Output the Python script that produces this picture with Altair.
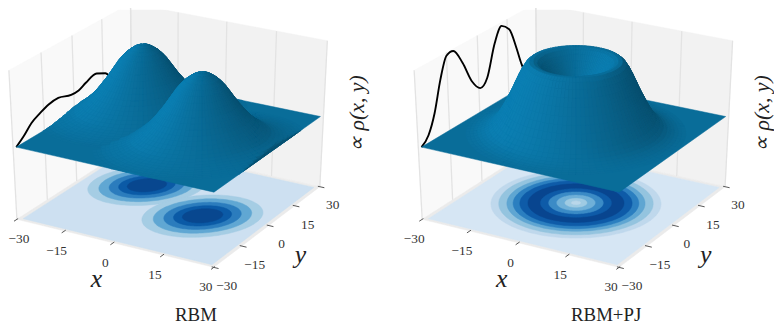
import numpy as np
import pandas as pd
import altair as alt

alt.data_transformers.disable_max_rows()

# ---- values ----
TICKS = [-30, -15, 0, 15, 30]
DATA_EDGE = 28.8
SHEET_EDGE = 29.4
SHEET_Z = 0.495
BUMP_H = 0.465

# RBM: two elongated humps (centre, radial height profile at 1-unit steps)
RBM_CENTRES = [(-11.7, 7.2), (11.7, -3.2)]
RBM_PEAKS = [(-12.7, 7.2), (10.9, -3.2)]
RBM_PROFILE = [1.0, .995, .975, .94, .90, .845, .78, .70, .62, .54, .47, .40, .335, .28, .23, .185, .145, .11, .085, .065, .048, .034, .022, .013, .006, .002, 0.0]
RBM_STRETCH = (1.12, 0.88)
RBM_STRETCH_DEG = 55
RBM_CONTOUR_R = [15.0, 12.2, 9.6, 7.2, 5.0]
RBM_CONTOUR_C = ["#a5cde4", "#60a7d3", "#2b7cbd", "#0b5aa6", "#08478f"]
RBM_BASE = "#cde0f1"

# RBM+PJ: one ring (radial height profile at 1-unit steps)
PJ_PROFILE = [.42, .43, .45, .49, .55, .62, .70, .78, .86, .93, .98, 1.0, 1.0, .96, .88, .78, .67, .56, .46, .36, .27, .19, .13, .085, .055, .035, .02, .01, .004, 0.0]
PJ_CONTOUR_R = [23.0, 20.9, 18.7, 17.0, 15.2, 13.0, 9.6, 7.4, 5.2, 3.0]
PJ_CONTOUR_C = ["#bfd8ec", "#94c4df", "#5fa6d2", "#2b7fc0", "#0e5ba8", "#08458f", "#0e5ba8", "#3b8bc6", "#6fb0d8", "#9fcbe3"]
PJ_CENTRE_C = "#b9d7ea"
PJ_BASE = "#d6e6f4"

# black curves on the x = -edge plane
RBM_CURVE_Y = [-29.4, -25.5, -21.8, -17.5, -13.5, -8.6, -2.3, 1.5, 5.2, 10.8, 15.3, 17.7, 21.0, 25.0, 29.4]
RBM_CURVE_Z = [.495, .54, .593, .625, .648, .655, .625, .625, .648, .668, .635, .595, .545, .515, .495]
PJ_CURVE_Y = [-29.4, -25.9, -22.6, -19.2, -15.9, -12.6, -8.4, -4.2, -.3, 3.3, 7.5, 11.2, 15.0, 18.5, 20.8, 25.0, 29.4]
PJ_CURVE_Z = [.495, .545, .665, .859, .989, .995, .885, .73, .655, .695, .895, .985, .935, .785, .665, .525, .495]

SHEET_BASE_RGB = (12, 131, 184)
PANEL_SHIFT = 409.5

# ---- camera (mplot3d default view) ----
U = np.array([.866025, .5, 0.0])
V = np.array([-.25, .433013, .866025])
N = np.array([.433013, -.75, .5])
SX, SY, TX, TY = 229.6, 172.0, 172.4, 130.5


def cube(x, y, z):
    return np.stack([(np.asarray(x, float) + 30) / 60, (np.asarray(y, float) + 30) / 60, np.asarray(z, float)], -1)


def project(p, shift=0.0):
    d = p - .5
    f = 10.0 / (10.0 - d @ N)
    return TX + shift + SX * f * (d @ U), TY - SY * f * (d @ V), d @ N


polys, front = [], []


def add_poly(store, x, y, z, fill, shift):
    px, py, _ = project(cube(x, y, z), shift)
    store.append((px, py, fill))


def rings(centre, radii, colors, shift, stretch=(1, 1), deg=0):
    th = np.radians(np.arange(0, 361, 3))
    a = np.radians(deg)
    for r, c in zip(radii, colors):
        e1, e2 = r * stretch[0] * np.cos(th), r * stretch[1] * np.sin(th)
        add_poly(polys, centre[0] + e1 * np.cos(a) - e2 * np.sin(a), centre[1] + e1 * np.sin(a) + e2 * np.cos(a),
                 np.zeros_like(th), c, shift)


def square(plane, fill, shift, store, edge=30, level=0.0):
    a = [-edge, edge, edge, -edge, -edge]
    b = [-edge, -edge, edge, edge, -edge]
    if plane == "floor":
        add_poly(store, a, b, [level] * 5, fill, shift)
    if plane == "left":
        add_poly(store, [-edge] * 5, a, [0, 0, 1, 1, 0], fill, shift)
    if plane == "back":
        add_poly(store, a, [edge] * 5, [0, 0, 1, 1, 0], fill, shift)


def shade(n):
    s = n @ np.array([-.667, -.667, .333])
    fac = .833 + .85 * (.25 * (1 + s) - .333)
    return "#%02x%02x%02x" % tuple(int(min(255, c * fac)) for c in SHEET_BASE_RGB)


def mesh(centres, profile, nth, stretch, deg):
    """heights from the typed profile, on a polar mesh round each centre"""
    a = np.radians(deg)
    out = []
    th = np.radians(np.linspace(0, 360, nth + 1))
    for k, c in enumerate(centres):
        rad = np.arange(len(profile), dtype=float)
        rr, tt = np.meshgrid(rad, th, indexing="ij")
        e1, e2 = rr * stretch[0] * np.cos(tt), rr * stretch[1] * np.sin(tt)
        X = c[0] + e1 * np.cos(a) - e2 * np.sin(a)
        Y = c[1] + e1 * np.sin(a) + e2 * np.cos(a)
        Z = SHEET_Z + BUMP_H * np.asarray(profile)[:, None] * np.ones_like(tt)
        X, Y = np.clip(X, -SHEET_EDGE, SHEET_EDGE), np.clip(Y, -SHEET_EDGE, SHEET_EDGE)
        for i in range(len(rad) - 1):
            for j in range(nth):
                qx = [X[i, j], X[i + 1, j], X[i + 1, j + 1], X[i, j + 1], X[i, j]]
                qy = [Y[i, j], Y[i + 1, j], Y[i + 1, j + 1], Y[i, j + 1], Y[i, j]]
                qz = [Z[i, j], Z[i + 1, j], Z[i + 1, j + 1], Z[i, j + 1], Z[i, j]]
                if len(centres) > 1:
                    mx, my = np.mean(qx[:4]), np.mean(qy[:4])
                    o = centres[1 - k]
                    if (mx - c[0]) ** 2 + (my - c[1]) ** 2 > (mx - o[0]) ** 2 + (my - o[1]) ** 2:
                        continue
                out.append((qx, qy, qz))
    return out


def surface(centres, profile, nth, stretch, deg, shift):
    square("floor", "#%02x%02x%02x" % tuple(int(c * .833) for c in SHEET_BASE_RGB), shift, front, SHEET_EDGE, SHEET_Z)
    faces = mesh(centres, profile, nth, stretch, deg)
    rows = []
    for qx, qy, qz in faces:
        p = cube(qx, qy, qz)
        n = np.cross(p[2] - p[0], p[3] - p[1])
        ln = np.linalg.norm(n)
        if ln < 1e-12:
            continue
        n = n / ln
        if n[2] < 0:
            n = -n
        depth = (p[:4].mean(0) - .5) @ N
        rows.append((depth, p, shade(n)))
    rows.sort(key=lambda t: t[0])
    for depth, p, col in rows:
        px, py, _ = project(p, shift)
        front.append((px, py, col))


for shift, base in ((0.0, RBM_BASE), (PANEL_SHIFT, PJ_BASE)):
    square("left", "#f9f9f9", shift, polys)
    square("back", "#f2f2f2", shift, polys)
    square("floor", "#ebebeb", shift, polys)
    square("floor", base, shift, polys, DATA_EDGE)

for c in RBM_CENTRES:
    rings(c, RBM_CONTOUR_R[:1], RBM_CONTOUR_C[:1], 0.0, RBM_STRETCH, RBM_STRETCH_DEG)
for c in RBM_CENTRES:
    rings(c, RBM_CONTOUR_R[1:], RBM_CONTOUR_C[1:], 0.0, RBM_STRETCH, RBM_STRETCH_DEG)
rings((0, 0), PJ_CONTOUR_R, PJ_CONTOUR_C, PANEL_SHIFT)
rings((0, 0), [1.3], [PJ_CENTRE_C], PANEL_SHIFT)

surface(RBM_PEAKS, RBM_PROFILE, 72, RBM_STRETCH, RBM_STRETCH_DEG, 0.0)
surface([(0.0, 0.0)], PJ_PROFILE, 96, (1, 1), 0, PANEL_SHIFT)


def poly_frame(store, prefix):
    rec = []
    for i, (px, py, col) in enumerate(store):
        for k, (a, b) in enumerate(zip(px, py)):
            rec.append((round(float(a), 1), round(float(b), 1), f"{prefix}{i:05d}", k, col))
    return pd.DataFrame(rec, columns=["px", "py", "pid", "k", "fill"])


W, H = 774, 316
xs = alt.Scale(domain=[8, 8 + W], range=[0, W], nice=False, zero=False)
ys = alt.Scale(domain=[8, 8 + H], range=[0, H], nice=False, zero=False)
X = alt.X("px:Q", scale=xs, axis=None)
Y = alt.Y("py:Q", scale=ys, axis=None)


def poly_layer(df):
    return alt.Chart(df).mark_line(strokeWidth=0.5, interpolate="linear", clip=True).encode(
        x=X, y=Y, detail="pid:N", order="k:Q",
        fill=alt.Fill("fill:N", scale=None), stroke=alt.Stroke("fill:N", scale=None))


# grid lines and ticks
grid, ticks = [], []
for shift, tag in ((0.0, "a"), (PANEL_SHIFT, "b")):
    for t in TICKS:
        for name, x, y in (("l", -30, t), ("r", t, 30)):
            px, py, _ = project(cube([x, x], [y, y], [0, 1]), shift)
            grid += [(float(px[0]), float(py[0]), f"{tag}{name}{t}", 0), (float(px[1]), float(py[1]), f"{tag}{name}{t}", 1)]
        px, py, _ = project(cube([t, t], [-29.4, -31.4], [0, 0]), shift)
        ticks += [(float(px[0]), float(py[0]), f"{tag}x{t}", 0), (float(px[1]), float(py[1]), f"{tag}x{t}", 1)]
        px, py, _ = project(cube([29.4, 31.4], [t, t], [0, 0]), shift)
        ticks += [(float(px[0]), float(py[0]), f"{tag}y{t}", 0), (float(px[1]), float(py[1]), f"{tag}y{t}", 1)]
grid_df = pd.DataFrame(grid, columns=["px", "py", "pid", "k"])
tick_df = pd.DataFrame(ticks, columns=["px", "py", "pid", "k"])
grid_layer = alt.Chart(grid_df).mark_line(color="#e3e3e3", strokeWidth=1.3).encode(x=X, y=Y, detail="pid:N", order="k:Q")
tick_layer = alt.Chart(tick_df).mark_line(color="#555555", strokeWidth=1).encode(x=X, y=Y, detail="pid:N", order="k:Q")

# black curves
curve = []
for shift, tag, cy, cz in ((0.0, "a", RBM_CURVE_Y, RBM_CURVE_Z), (PANEL_SHIFT, "b", PJ_CURVE_Y, PJ_CURVE_Z)):
    px, py, _ = project(cube(np.full(len(cy), -SHEET_EDGE), cy, cz), shift)
    curve += [(float(a), float(b), tag, i) for i, (a, b) in enumerate(zip(px, py))]
curve_df = pd.DataFrame(curve, columns=["px", "py", "pid", "k"])
curve_layer = alt.Chart(curve_df).mark_line(color="#000000", strokeWidth=1.9, interpolate="monotone").encode(
    x=X, y=Y, detail="pid:N", order="k:Q")

# tick labels
lab = []
for shift in (0.0, PANEL_SHIFT):
    for t in TICKS:
        txt = str(t).replace("-", "\u2212")
        px, py, _ = project(cube(t, -30, 0), shift)
        lab.append((max(float(px) - 8, 19.0), float(py) + 20, txt))
        px, py, _ = project(cube(30, t, 0), shift)
        lab.append((float(px) + 13, float(py) + 19, txt))
lab_df = pd.DataFrame(lab, columns=["px", "py", "t"])
tick_text = alt.Chart(lab_df).mark_text(font="Liberation Serif", fontSize=13.5, color="#333333").encode(x=X, y=Y, text="t:N")

# axis names, titles
def at(x, y, z, shift):
    px, py, _ = project(cube(x, y, z), shift)
    return float(px), float(py)


names = []
for shift in (0.0, PANEL_SHIFT):
    a, b = at(0, -30, 0, shift)
    names.append((a - 17, b + 37, "x"))
    a, b = at(30, 0, 0, shift)
    names.append((a + 32, b + 30, "y"))
name_df = pd.DataFrame(names, columns=["px", "py", "t"])
name_text = alt.Chart(name_df).mark_text(font="Liberation Serif", fontStyle="italic", fontSize=26, color="#222222").encode(x=X, y=Y, text="t:N")

rho = []
for shift in (0.0, PANEL_SHIFT):
    a, b = at(30, 30, .5, shift)
    rho.append((a + 34, b - 2, "\u221d \u03c1(x, y)"))
rho_df = pd.DataFrame(rho, columns=["px", "py", "t"])
rho_text = alt.Chart(rho_df).mark_text(font="Liberation Serif", fontStyle="italic", fontSize=22, angle=270, baseline="middle", color="#222222").encode(x=X, y=Y, text="t:N")

tit = []
for shift, s in ((0.0, "RBM"), (PANEL_SHIFT, "RBM+PJ")):
    a, b = at(30, -30, 0, shift)
    tit.append((a - 18 + (0 if shift == 0 else 5), b + 48, s))
tit_df = pd.DataFrame(tit, columns=["px", "py", "t"])
tit_text = alt.Chart(tit_df).mark_text(font="Liberation Serif", fontSize=19, color="#222222").encode(x=X, y=Y, text="t:N")

chart = alt.layer(
    poly_layer(poly_frame(polys, "p")),
    grid_layer,
    tick_layer,
    curve_layer,
    poly_layer(poly_frame(front, "f")),
    tick_text,
    name_text,
    rho_text,
    tit_text,
).properties(width=W, height=H, padding=0, autosize=alt.AutoSizeParams(type="none")).configure_view(stroke=None)

chart.save("out.html", embed_options={"renderer": "svg", "actions": False})
